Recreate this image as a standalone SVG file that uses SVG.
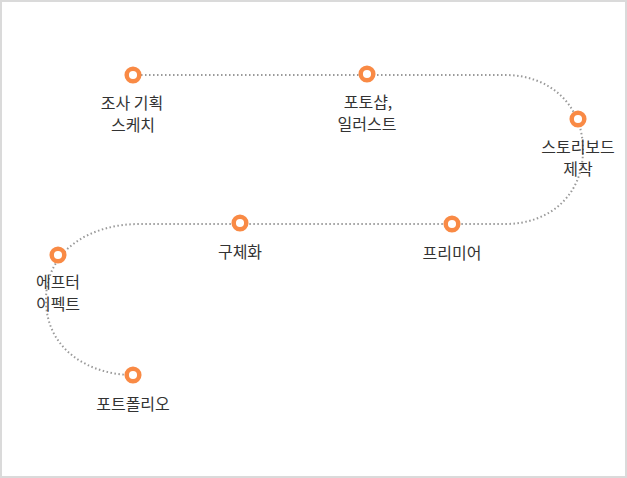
<svg xmlns="http://www.w3.org/2000/svg" width="627" height="478" viewBox="0 0 627 478">
<style>
.frame{fill:#fff;stroke:#dadada;stroke-width:2}
.conn{fill:none;stroke:#9a9a9a;stroke-width:2;stroke-dasharray:1.5 2.5}
.dot{fill:#fff;stroke:#f98a45;stroke-width:4.5}
.lbl{font-family:"Noto Sans CJK KR","Noto Sans",sans-serif;font-size:16px;fill:#333;text-anchor:middle}
</style>
<rect class="frame" x="1" y="1" width="625" height="476"/>
<g id="connectors">
<path class="conn" d="M133,75 H505 C550,75 583,105 583,150 C583,195 550,224 505,224 H140 C90,224 46,250 46,300 C46,350 90,375 133,375"/>
</g>
<g id="n1"><circle class="dot" cx="133" cy="75" r="6.3"/><text class="lbl" x="132" y="109">조사 기획</text><text class="lbl" x="133" y="131">스케치</text></g>
<g id="n2"><circle class="dot" cx="367" cy="74" r="6.3"/><text class="lbl" x="368" y="108">포토샵,</text><text class="lbl" x="367" y="130">일러스트</text></g>
<g id="n3"><circle class="dot" cx="578" cy="119" r="6.3"/><text class="lbl" x="578" y="153">스토리보드</text><text class="lbl" x="578" y="175">제작</text></g>
<g id="n4"><circle class="dot" cx="452" cy="224" r="6.3"/><text class="lbl" x="452" y="259">프리미어</text></g>
<g id="n5"><circle class="dot" cx="240" cy="223" r="6.3"/><text class="lbl" x="240" y="258">구체화</text></g>
<g id="n6"><circle class="dot" cx="58" cy="255" r="6.3"/><text class="lbl" x="58" y="288">에프터</text><text class="lbl" x="58" y="310">이펙트</text></g>
<g id="n7"><circle class="dot" cx="133" cy="375" r="6.3"/><text class="lbl" x="133" y="410">포트폴리오</text></g>
</svg>
